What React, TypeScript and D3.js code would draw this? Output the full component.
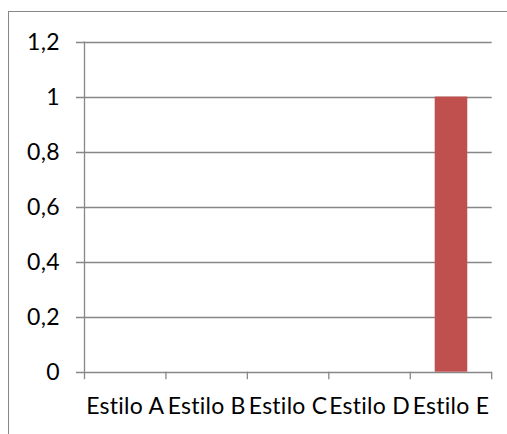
import React from "react";
import * as d3 from "d3";

const categories = ["Estilo A", "Estilo B", "Estilo C", "Estilo D", "Estilo E"];
const values = [0, 0, 0, 0, 1];
const yTicks = [0, 0.2, 0.4, 0.6, 0.8, 1, 1.2];

export default function App() {
  const W = 507, H = 434;
  const left = 84.5, right = 491.7, top = 41.5, bottom = 371.7;
  const x = d3.scaleBand<string>().domain(categories).range([left, right]).paddingInner(0.6).paddingOuter(0.3);
  const xb = d3.scaleBand<string>().domain(categories).range([left, right]);
  const y = d3.scaleLinear().domain([0, 1.2]).range([bottom, top]);
  const fmt = (v: number) => d3.format(".1~f")(v).replace(".", ",");
  const grid = "#878787";
  const font = "Lato, 'Open Sans', sans-serif";
  return (
    <svg width={W} height={H} style={{ position: "absolute", left: 0, top: 0, display: "block" }}>
      <rect x={0} y={0} width={W} height={H} fill="#fff" />
      <rect x={8.5} y={11.5} width={520} height={440} fill="none" stroke={grid} strokeWidth={1} />
      {yTicks.map((t) => (
        <g key={t}>
          <line x1={left - 8.5} x2={right} y1={Math.round(y(t)) + 0.5} y2={Math.round(y(t)) + 0.5} stroke={grid} strokeWidth={1.3} />
          <text x={60} y={y(t)} dy="0.36em" textAnchor="end" fontFamily={font} fontSize={23} letterSpacing={0.4} fill="#000">
            {fmt(t)}
          </text>
        </g>
      ))}
      <line x1={left} x2={left} y1={top} y2={bottom} stroke={grid} strokeWidth={1.3} />
      {categories.map((c) => (
        <line key={c} x1={xb(c)!} x2={xb(c)!} y1={bottom} y2={bottom + 7.5} stroke={grid} strokeWidth={1.3} />
      ))}
      <line x1={right} x2={right} y1={bottom} y2={bottom + 7.5} stroke={grid} strokeWidth={1.3} />
      {categories.map((c, i) => (
        <rect key={c} x={x(c)!} y={y(values[i])} width={x.bandwidth()} height={bottom - y(values[i])} fill="#C0504D" />
      ))}
      {categories.map((c) => (
        <text key={c} x={xb(c)! + xb.bandwidth() / 2} y={414} textAnchor="middle" fontFamily={font} fontSize={23} letterSpacing={0.25} fill="#000">
          {c}
        </text>
      ))}
    </svg>
  );
}
